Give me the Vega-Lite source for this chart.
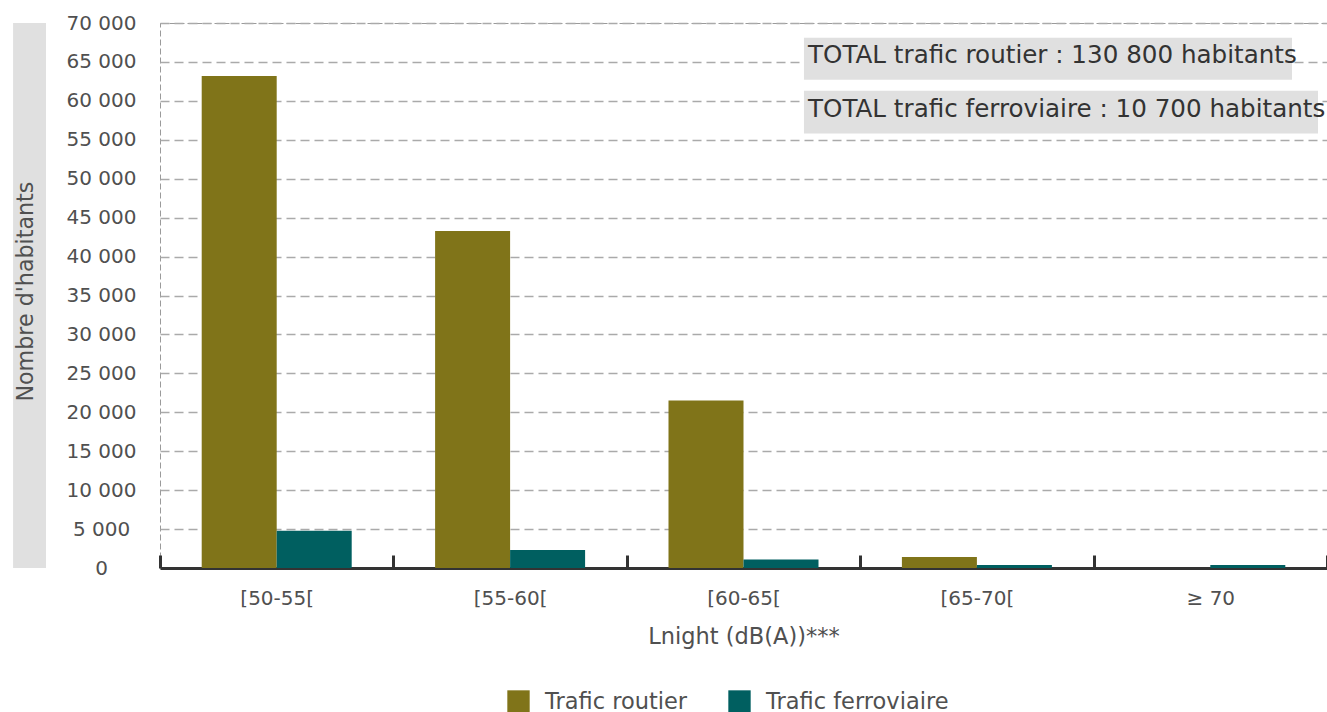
{
  "$schema": "https://vega.github.io/schema/vega-lite/v6.json",
  "width": 1167,
  "height": 545,
  "autosize": {"type": "none"},
  "padding": {"left": 160, "top": 23, "right": 0, "bottom": 144},
  "config": {
    "font": "DejaVu Sans",
    "view": {"stroke": "#9a9a9a", "strokeDash": [6, 3], "strokeWidth": 1},
    "axisY": {
      "title": null,
      "labelExpr": "replace(format(datum.value, ','), ',', ' ')",
      "labelOverlap": false,
      "labelFontSize": 20, "labelColor": "#505050", "labelPadding": 59, "labelAlign": "center",
      "ticks": false, "domain": false,
      "grid": true, "gridDash": [9, 5], "gridColor": "#aaaaaa", "gridWidth": 1.5
    }
  },
  "layer": [
    {
      "data": {"values": [
        {"classe": "[50-55[", "serie": "Trafic routier", "habitants": 63200},
        {"classe": "[50-55[", "serie": "Trafic ferroviaire", "habitants": 4800},
        {"classe": "[55-60[", "serie": "Trafic routier", "habitants": 43300},
        {"classe": "[55-60[", "serie": "Trafic ferroviaire", "habitants": 2300},
        {"classe": "[60-65[", "serie": "Trafic routier", "habitants": 21500},
        {"classe": "[60-65[", "serie": "Trafic ferroviaire", "habitants": 1100},
        {"classe": "[65-70[", "serie": "Trafic routier", "habitants": 1400},
        {"classe": "[65-70[", "serie": "Trafic ferroviaire", "habitants": 400},
        {"classe": "≥ 70", "serie": "Trafic routier", "habitants": 0},
        {"classe": "≥ 70", "serie": "Trafic ferroviaire", "habitants": 400}
      ]},
      "mark": {"type": "bar"},
      "encoding": {
        "x": {
          "field": "classe", "type": "nominal",
          "sort": ["[50-55[", "[55-60[", "[60-65[", "[65-70[", "≥ 70"],
          "scale": {"paddingInner": 0, "paddingOuter": 0},
          "axis": {
            "title": "Lnight (dB(A))***",
            "titleFontSize": 22.5, "titleFontWeight": "normal", "titleColor": "#505050", "titlePadding": 17,
            "labelFontSize": 20, "labelColor": "#505050", "labelAngle": 0, "labelPadding": 33,
            "tickBand": "extent", "tickSize": -13, "tickWidth": 3, "tickColor": "#333333",
            "domainColor": "#333333", "domainWidth": 3, "grid": false
          }
        },
        "xOffset": {"field": "serie", "type": "nominal", "sort": ["Trafic routier", "Trafic ferroviaire"], "scale": {"paddingInner": 0, "paddingOuter": 0.556}},
        "y": {
          "field": "habitants", "type": "quantitative",
          "scale": {"domain": [0, 70000], "nice": false},
          "axis": {"values": [0, 5000, 10000, 15000, 20000, 25000, 30000, 35000, 40000, 45000, 50000, 55000, 60000, 65000, 70000]}
        },
        "color": {
          "field": "serie", "type": "nominal",
          "scale": {"domain": ["Trafic routier", "Trafic ferroviaire"], "range": ["#807419", "#005f60"]},
          "legend": {
            "title": null, "orient": "none", "legendX": 347, "legendY": 667, "direction": "horizontal",
            "symbolType": "square", "symbolSize": 500, "symbolStrokeWidth": 0,
            "labelFontSize": 22.5, "labelColor": "#505050", "labelOffset": 15, "columnPadding": 40, "labelLimit": 0
          }
        }
      }
    },
    {
      "data": {"values": [{"k": 1}]},
      "mark": {"type": "rect", "color": "#e0e0e0"},
      "encoding": {
        "x": {"datum": -0.1259, "type": "quantitative", "scale": {"domain": [0, 1], "nice": false, "zero": false}, "axis": null},
        "x2": {"datum": -0.0977},
        "y": {"datum": 0, "type": "quantitative", "axis": {"values": [0, 5000, 10000, 15000, 20000, 25000, 30000, 35000, 40000, 45000, 50000, 55000, 60000, 65000, 70000]}},
        "y2": {"datum": 70000}
      }
    },
    {
      "data": {"values": [{"t": "Nombre d'habitants"}]},
      "mark": {"type": "text", "angle": 270, "fontSize": 22.2, "color": "#505050", "align": "center", "baseline": "middle"},
      "encoding": {
        "x": {"datum": -0.1148, "type": "quantitative", "scale": {"domain": [0, 1], "nice": false, "zero": false}, "axis": null},
        "y": {"datum": 35500, "type": "quantitative", "axis": {"values": [0, 5000, 10000, 15000, 20000, 25000, 30000, 35000, 40000, 45000, 50000, 55000, 60000, 65000, 70000]}},
        "text": {"field": "t"}
      }
    },
    {
      "data": {"values": [{"k": 1}]},
      "mark": {"type": "rect", "color": "#e0e0e0"},
      "encoding": {
        "x": {"datum": 0.5518, "type": "quantitative", "scale": {"domain": [0, 1], "nice": false, "zero": false}, "axis": null},
        "x2": {"datum": 0.97},
        "y": {"datum": 68100, "type": "quantitative", "axis": {"values": [0, 5000, 10000, 15000, 20000, 25000, 30000, 35000, 40000, 45000, 50000, 55000, 60000, 65000, 70000]}},
        "y2": {"datum": 62700}
      }
    },
    {
      "data": {"values": [{"k": 1}]},
      "mark": {"type": "rect", "color": "#e0e0e0"},
      "encoding": {
        "x": {"datum": 0.5518, "type": "quantitative", "scale": {"domain": [0, 1], "nice": false, "zero": false}, "axis": null},
        "x2": {"datum": 0.9923},
        "y": {"datum": 61300, "type": "quantitative", "axis": {"values": [0, 5000, 10000, 15000, 20000, 25000, 30000, 35000, 40000, 45000, 50000, 55000, 60000, 65000, 70000]}},
        "y2": {"datum": 55800}
      }
    },
    {
      "data": {"values": [{"t": "TOTAL trafic routier : 130 800 habitants"}]},
      "mark": {"type": "text", "fontSize": 24.6, "color": "#333333", "align": "left", "baseline": "middle"},
      "encoding": {
        "x": {"datum": 0.5553, "type": "quantitative", "scale": {"domain": [0, 1], "nice": false, "zero": false}, "axis": null},
        "y": {"datum": 65700, "type": "quantitative", "axis": {"values": [0, 5000, 10000, 15000, 20000, 25000, 30000, 35000, 40000, 45000, 50000, 55000, 60000, 65000, 70000]}},
        "text": {"field": "t"}
      }
    },
    {
      "data": {"values": [{"t": "TOTAL trafic ferroviaire : 10 700 habitants"}]},
      "mark": {"type": "text", "fontSize": 24.6, "color": "#333333", "align": "left", "baseline": "middle"},
      "encoding": {
        "x": {"datum": 0.5553, "type": "quantitative", "scale": {"domain": [0, 1], "nice": false, "zero": false}, "axis": null},
        "y": {"datum": 58800, "type": "quantitative", "axis": {"values": [0, 5000, 10000, 15000, 20000, 25000, 30000, 35000, 40000, 45000, 50000, 55000, 60000, 65000, 70000]}},
        "text": {"field": "t"}
      }
    }
  ],
  "resolve": {"scale": {"x": "independent"}}
}
